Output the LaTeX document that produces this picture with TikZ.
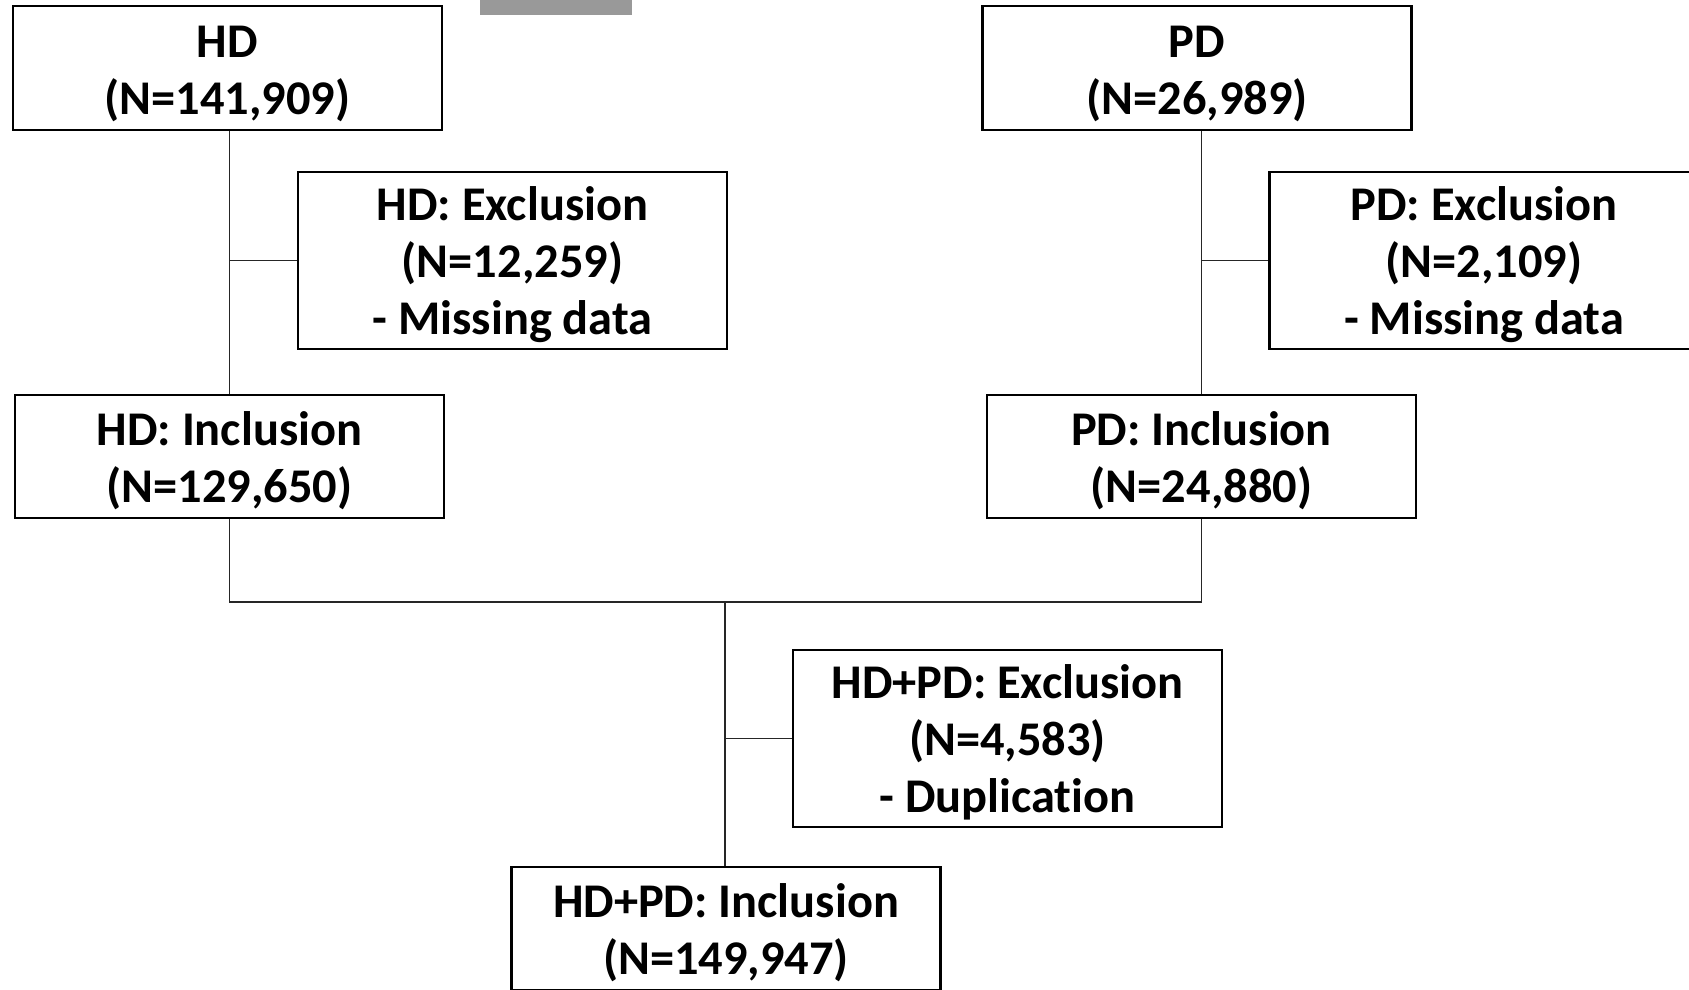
\documentclass[tikz,border=0pt]{standalone}
\usepackage{fontspec}
\setmainfont{Carlito}[Ligatures=NoCommon]
\newcommand\topfix{\rule{0pt}{21.25pt}}
\begin{document}
\begin{tikzpicture}[x=0.5pt,y=-0.5pt,
  box/.style={draw=black,line width=1.1pt,rectangle,minimum width=214.5pt,align=center,
    font=\fontsize{24.2}{28.5}\selectfont\bfseries,inner sep=0pt},
  twoline/.style={box,minimum height=61.75pt},
  threeline/.style={box,minimum height=88.5pt},
  conn/.style={draw=black!85,line width=0.6pt}]
\useasboundingbox (0,0) rectangle (1689,989);
\clip (0,0) rectangle (1689,989);
\fill[black!40] (480,-2) rectangle (632,15);
\node[twoline] (HD) at (227.5,68) {\topfix HD\\(N=141,909)};
\node[twoline] (PD) at (1197,68) {\topfix PD\\(N=26,989)};
\node[threeline] (HDex) at (512.5,260.5) {\topfix HD: Exclusion\\(N=12,259)\\- Missing data};
\node[threeline] (PDex) at (1484,260.5) {\topfix PD: Exclusion\\(N=2,109)\\- Missing data};
\node[twoline] (HDinc) at (229.5,456.5) {\topfix HD: Inclusion\\(N=129,650)};
\node[twoline] (PDinc) at (1201.5,456.5) {\topfix PD: Inclusion\\(N=24,880)};
\node[threeline] (HPex) at (1007.5,738.5) {\topfix HD+PD: Exclusion\\(N=4,583)\\- Duplication};
\node[twoline] (HPinc) at (726,928.5) {\topfix HD+PD: Inclusion\\(N=149,947)};
\coordinate (j) at (725,602);
\draw[conn] (HDinc.north |- HD.south) -- (HDinc.north);
\draw[conn] (HDinc.north |- HDex.west) -- (HDex.west);
\draw[conn] (PDinc.north |- PD.south) -- (PDinc.north);
\draw[conn] (PDinc.north |- PDex.west) -- (PDex.west);
\draw[conn] (HDinc.south) |- (j) -| (PDinc.south);
\draw[conn] (j) -- (j |- HPinc.north);
\draw[conn] (j |- HPex.west) -- (HPex.west);
\end{tikzpicture}
\end{document}
